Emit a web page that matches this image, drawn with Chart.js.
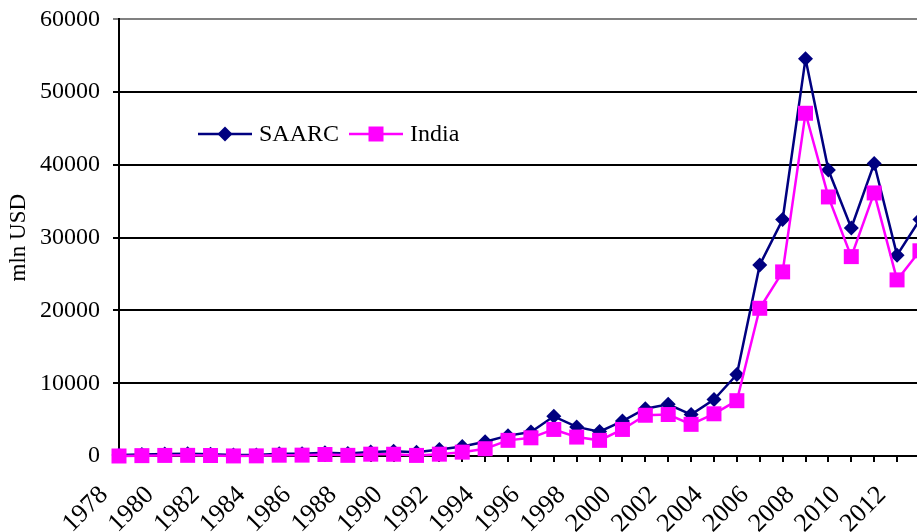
<!DOCTYPE html>
<html>
<head>
<meta charset="utf-8">
<script src="https://cdn.jsdelivr.net/npm/chart.js@4/dist/chart.umd.min.js"></script>
<style>
  html, body { margin: 0; padding: 0; background: #fff; overflow: hidden; }
  #wrap { width: 917px; height: 532px; overflow: hidden; }
  #fdiChart { display: block; margin-top: -8px; }
</style>
</head>
<body>
<div id="wrap"><canvas id="fdiChart" width="960" height="540"></canvas></div>
<script>
const years = [
  "1978", "1979", "1980", "1981", "1982", "1983", "1984", "1985", "1986",
  "1987", "1988", "1989", "1990", "1991", "1992", "1993", "1994", "1995",
  "1996", "1997", "1998", "1999", "2000", "2001", "2002", "2003", "2004",
  "2005", "2006", "2007", "2008", "2009", "2010", "2011", "2012", "2013",
];

const saarc = [
  150, 200, 280, 300, 250, 150, 150, 300, 320, 450, 350, 550, 650, 500, 900, 1300,
  1950, 2800, 3300, 5450, 4000, 3350, 4800, 6500, 7100, 5700, 7750, 11200,
  26250, 32500, 54600, 39300, 31350, 40200, 27600, 32500,
];

const india = [
  0, 50, 80, 90, 70, 10, 20, 110, 120, 210, 90, 250, 240, 80, 250, 530,
  1000, 2150, 2500, 3650, 2600, 2150, 3650, 5600, 5700, 4350, 5800, 7600,
  20300, 25300, 47100, 35600, 27400, 36150, 24200, 28200,
];

const yTicks = [0, 10000, 20000, 30000, 40000, 50000, 60000];

const FONT = "'Liberation Serif', 'Times New Roman', serif";
const NAVY = "#000080";
const MAGENTA = "#FF00FF";

function drawMarker(ctx, shape, x, y, color) {
  ctx.fillStyle = color;
  ctx.beginPath();
  if (shape === "diamond") {
    const r = 7.5;
    ctx.moveTo(x - r, y);
    ctx.lineTo(x, y - r);
    ctx.lineTo(x + r, y);
    ctx.lineTo(x, y + r);
    ctx.closePath();
  } else {
    const s = 7.5;
    ctx.rect(x - s, y - s, 2 * s, 2 * s);
  }
  ctx.fill();
}

// legend sits inside the plot, like the original
const insideLegend = {
  id: "insideLegend",
  afterDatasetsDraw(chart) {
    const ctx = chart.ctx;
    const items = [
      { text: "SAARC", color: NAVY, shape: "diamond", x: 198 },
      { text: "India", color: MAGENTA, shape: "square", x: 349 },
    ];
    const y = 142;
    ctx.save();
    items.forEach((it) => {
      ctx.strokeStyle = it.color;
      ctx.lineWidth = 2.5;
      ctx.beginPath();
      ctx.moveTo(it.x, y);
      ctx.lineTo(it.x + 54, y);
      ctx.stroke();
      drawMarker(ctx, it.shape, it.x + 27, y, it.color);
      ctx.fillStyle = "#000";
      ctx.font = "24px " + FONT;
      ctx.textBaseline = "middle";
      ctx.textAlign = "left";
      ctx.fillText(it.text, it.x + 61, y + 1);
    });
    ctx.restore();
  },
};

new Chart(document.getElementById("fdiChart"), {
  type: "line",
  data: {
    labels: years,
    datasets: [
      {
        label: "SAARC",
        data: saarc,
        borderColor: NAVY,
        backgroundColor: NAVY,
        borderWidth: 2.5,
        pointStyle: "rectRot",
        pointRadius: 7.5,
        pointHoverRadius: 7.5,
        pointBorderWidth: 0,
        tension: 0,
        clip: false,
        order: 1,
      },
      {
        label: "India",
        data: india,
        borderColor: MAGENTA,
        backgroundColor: MAGENTA,
        borderWidth: 2.5,
        pointStyle: "rect",
        pointRadius: 10.6,
        pointHoverRadius: 10.6,
        pointBorderWidth: 0,
        tension: 0,
        clip: false,
        order: 0,
      },
    ],
  },
  options: {
    responsive: false,
    animation: false,
    layout: {
      padding: 0,
    },
    plugins: {
      legend: { display: false },
      tooltip: { enabled: false },
    },
    scales: {
      x: {
        afterFit: (scale) => { scale.height = 76; },
        grid: {
          drawOnChartArea: false,
          drawTicks: true,
          tickLength: 6,
          color: "#000",
          lineWidth: 2,
        },
        border: { display: true, color: "#000", width: 2 },
        ticks: {
          autoSkip: false,
          minRotation: 45,
          maxRotation: 45,
          padding: 18,
          labelOffset: -15,
          color: "#000",
          font: { family: FONT, size: 26 },
          callback: (val, i) => (i % 2 === 0 ? years[i] : ""),
        },
      },
      y: {
        min: yTicks[0],
        max: yTicks[yTicks.length - 1],
        afterFit: (scale) => { scale.width = 119; },
        afterBuildTicks: (scale) => {
          scale.ticks = yTicks.map((v) => ({ value: v }));
        },
        grid: {
          color: (c) => (c.tick && c.tick.value === 60000 ? "#808080" : "#000"),
          lineWidth: 2,
          tickLength: 6,
        },
        border: { display: true, color: "#000", width: 2 },
        ticks: {
          padding: 13,
          color: "#000",
          font: { family: FONT, size: 24 },
          callback: (v) => String(v),
        },
        title: {
          display: true,
          text: "mln USD",
          color: "#000",
          padding: { top: 5, bottom: 0 },
          font: { family: FONT, size: 23 },
        },
      },
    },
  },
  plugins: [insideLegend],
});
</script>
</body>
</html>
